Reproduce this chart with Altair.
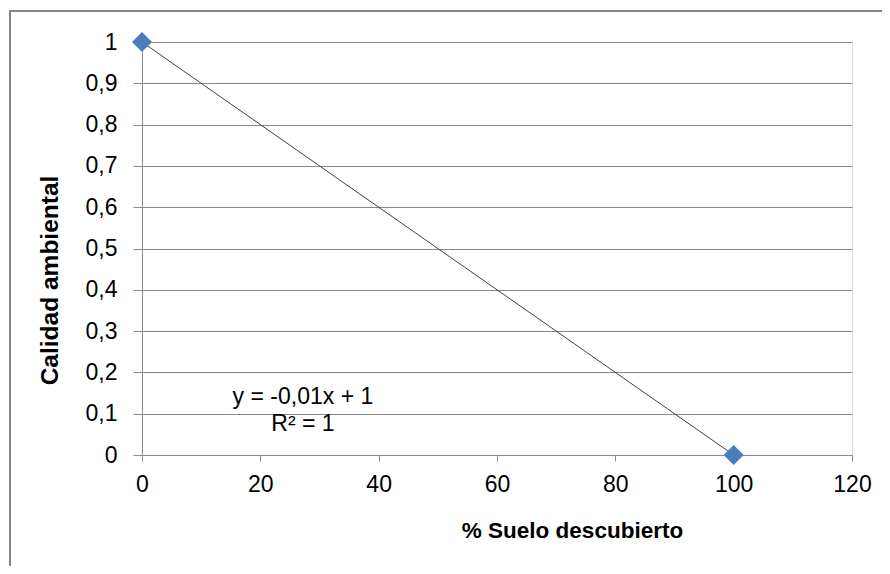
import altair as alt
import pandas as pd

# data
suelo = [0, 100]
calidad = [1, 0]
ann_text = ["y = -0,01x + 1", "R² = 1"]
ann_x = [27.2, 27.2]
ann_y = [0.140, 0.074]

df = pd.DataFrame({"x": suelo, "y": calidad})
ann = pd.DataFrame({"x": ann_x, "y": ann_y, "t": ann_text})

FONT = "Liberation Sans"
GRID = "#8a8a8a"

xs = alt.Scale(domain=[0, 120], nice=False, zero=False)
ys = alt.Scale(domain=[0, 1], nice=False)

x_axis = alt.Axis(values=[0, 20, 40, 60, 80, 100, 120], grid=False, domainColor=GRID,
                  tickColor=GRID, tickSize=6, labelPadding=12, labelFlush=False,
                  labelFont=FONT, labelFontSize=23, labelColor="#000",
                  titleFont=FONT, titleFontSize=22.5, titleFontWeight="bold",
                  titleColor="#000", titleX=430, titleY=75, titleBaseline="middle")
y_axis = alt.Axis(values=[i / 10 for i in range(11)], grid=True, gridColor=GRID,
                  domainColor=GRID, tickColor=GRID, tickSize=9, labelPadding=16,
                  labelFlush=False, labelFont=FONT, labelFontSize=23, labelColor="#000",
                  labelExpr="replace(format(datum.value, '.1~f'), '.', ',')",
                  titleFont=FONT, titleFontSize=24.5, titleFontWeight="bold",
                  titleColor="#000", titleX=-92, titleY=238, titleBaseline="middle")

base = alt.Chart(df)

line = base.transform_regression("x", "y", method="linear").mark_line(
    color="#404040", strokeWidth=1
).encode(
    x=alt.X("x:Q", scale=xs, axis=x_axis, title="% Suelo descubierto"),
    y=alt.Y("y:Q", scale=ys, axis=y_axis, title="Calidad ambiental"),
)

pts = base.mark_point(shape="diamond", filled=True, size=400, color="#4a7ebb",
                      opacity=1).encode(
    x=alt.X("x:Q", scale=xs), y=alt.Y("y:Q", scale=ys))

txt = alt.Chart(ann).mark_text(font=FONT, fontSize=23, color="#000").encode(
    x=alt.X("x:Q", scale=xs), y=alt.Y("y:Q", scale=ys), text="t:N")

frame = alt.Chart(df).mark_rect(fill=None, stroke="#868686", strokeWidth=2).encode(
    x=alt.value(-132), x2=alt.value(900), y=alt.value(-31), y2=alt.value(700))

chart = alt.layer(frame, line, pts, txt).properties(
    width=710, height=413,
    autosize=alt.AutoSizeParams(type="none"),
    padding={"left": 134, "top": 34, "right": 30, "bottom": 111},
).configure_view(stroke=None).configure(background="white")

chart.save("out.html", embed_options={"renderer": "svg", "actions": False})
